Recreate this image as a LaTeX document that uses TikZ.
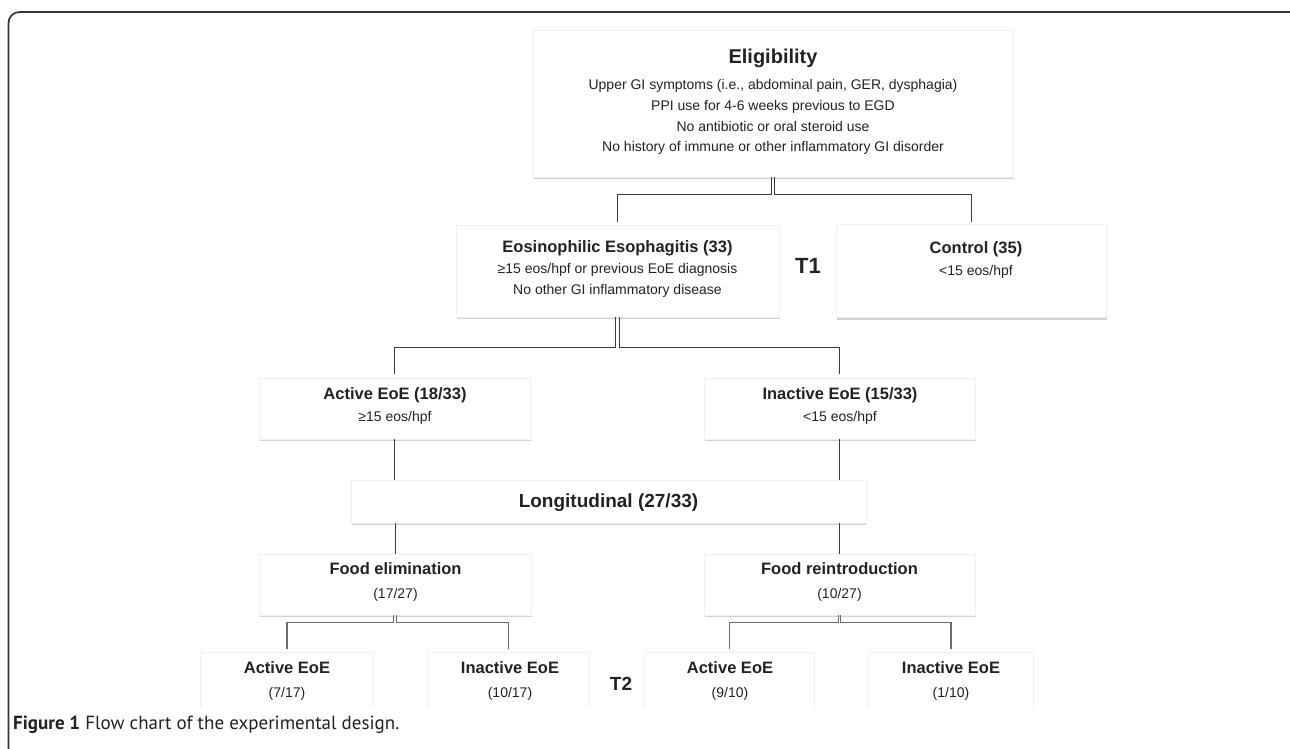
\documentclass[tikz,border=0pt]{standalone}
\usepackage{fontspec}
\setmainfont{Liberation Sans}
\newfontfamily\capfont{PT Sans}
\usetikzlibrary{shadows}
\definecolor{txt}{HTML}{222222}
\definecolor{lnc}{HTML}{3A3A3A}
\definecolor{lnl}{HTML}{6A6A6A}
\definecolor{bdc}{HTML}{F0F0F0}
\definecolor{frm}{HTML}{333333}
\newcommand\fsz[2]{\fontsize{#1}{#2}\selectfont}
\tikzset{
  box/.style={rectangle, draw=bdc, line width=0.8pt, fill=white, inner sep=0pt,
    drop shadow={shadow xshift=0.6pt, shadow yshift=-2.2pt, fill=black!45, opacity=0.4}},
  openbox/.style={rectangle, inner sep=0pt, fill=white},
  side/.style={draw=bdc, line width=0.9pt},
  hd/.style={anchor=base, text=txt, font=\fsz{16.5}{20}\bfseries, inner sep=0pt},
  body/.style={anchor=base, text=txt, font=\fsz{14}{17}, inner sep=0pt},
  tlab/.style={anchor=base, text=txt, font=\fsz{22}{26}\bfseries, inner sep=0pt},
  conn/.style={draw=lnc, line width=1pt},
  connl/.style={draw=lnl, line width=1.2pt},
}
\begin{document}
\begin{tikzpicture}[x=1pt,y=-1pt]
\useasboundingbox (0,0) rectangle (1290,748);
\clip (0,0) rectangle (1290,748);
\fill[white] (0,0) rectangle (1290,748);
\draw[frm, line width=1.7pt, rounded corners=11pt] (8.5,12) rectangle (1302,775);

% boxes
\node[box, minimum width=480pt, minimum height=147pt] (elig) at (773,103.5) {};
\node[box, minimum width=323pt, minimum height=92pt] (eoe) at (617.5,271) {};
\node[box, minimum width=270pt, minimum height=93pt] (ctrl) at (971,271) {};
\node[box, minimum width=271pt, minimum height=61pt] (act) at (394.5,408.5) {};
\node[box, minimum width=271pt, minimum height=61pt] (inact) at (839.5,408.5) {};
\node[box, minimum width=515pt, minimum height=43pt] (longi) at (608.5,501.5) {};
\node[box, minimum width=272pt, minimum height=61pt] (felim) at (395,584.5) {};
\node[box, minimum width=271pt, minimum height=61pt] (freint) at (839.5,584.5) {};
\node[openbox, minimum width=172pt, minimum height=55pt] (b1) at (287,680.5) {};
\node[openbox, minimum width=161pt, minimum height=55pt] (b2) at (508.5,680.5) {};
\node[openbox, minimum width=169pt, minimum height=55pt] (b3) at (729.5,680.5) {};
\node[openbox, minimum width=164pt, minimum height=55pt] (b4) at (951,680.5) {};
\foreach \b in {b1,b2,b3,b4}{
  \draw[side] (\b.south west) -- (\b.north west) -- (\b.north east) -- (\b.south east);
}

% texts
\node[anchor=base, text=txt, font=\fsz{20}{24}\bfseries, inner sep=0pt] (eligT) at (773,63) {Eligibility};
\node[body] (e1) at (773,89) {Upper GI symptoms (i.e., abdominal pain, GER, dysphagia)};
\node[body] (e2) at (773,110) {PPI use for 4-6 weeks previous to EGD};
\node[body] (e3) at (773,131) {No antibiotic or oral steroid use};
\node[body] (e4) at (773,151) {No history of immune or other inflammatory GI disorder};

\node[hd] (eoeT) at (617.5,252) {Eosinophilic Esophagitis (33)};
\node[body] (eoe1) at (617.5,273) {≥15 eos/hpf or previous EoE diagnosis};
\node[body] (eoe2) at (617.5,294) {No other GI inflammatory disease};
\node[tlab] (t1) at (808,273) {T1};

\node[hd] (ctrlT) at (976,253) {Control (35)};
\node[body] (ctrl1) at (976,275) {<15 eos/hpf};

\node[hd] (actT) at (395,399) {Active EoE (18/33)};
\node[body] (act1) at (395,421) {≥15 eos/hpf};
\node[hd] (inactT) at (840,399) {Inactive EoE (15/33)};
\node[body] (inact1) at (840,421) {<15 eos/hpf};

\node[anchor=base, text=txt, font=\fsz{19}{22}\bfseries, inner sep=0pt] (longiT) at (608.5,507) {Longitudinal (27/33)};

\node[hd] (felimT) at (395.5,574) {Food elimination};
\node[body] (felim1) at (395.5,598) {(17/27)};
\node[hd] (freintT) at (839.5,574) {Food reintroduction};
\node[body] (freint1) at (839.5,598) {(10/27)};

\node[hd] (b1T) at (287,673) {Active EoE};
\node[body] (b1n) at (287,697) {(7/17)};
\node[hd] (b2T) at (510,673) {Inactive EoE};
\node[body] (b2n) at (510,697) {(10/17)};
\node[hd] (b3T) at (730,673) {Active EoE};
\node[body] (b3n) at (730,697) {(9/10)};
\node[hd] (b4T) at (951,673) {Inactive EoE};
\node[body] (b4n) at (951,697) {(1/10)};
\node[anchor=base, text=txt, font=\fsz{19}{22}\bfseries, inner sep=0pt] (t2) at (621,690) {T2};

% connectors
\draw[conn, shorten >=2.5pt] ([xshift=-1.5pt]elig.south) -- ++(0,17) -| (eoe.north);
\draw[conn, shorten >=2.5pt] ([xshift=1.5pt]elig.south) -- ++(0,17) -| (ctrl.north);
\draw[conn, shorten >=4pt] ([xshift=-2pt]eoe.south) -- ++(0,30) -| (act.north);
\draw[conn, shorten >=4pt] ([xshift=2pt]eoe.south) -- ++(0,30) -| (inact.north);
\draw[conn] (act.south) -- (act.south |- longi.north);
\draw[conn] (inact.south) -- (inact.south |- longi.north);
\draw[conn] (longi.south -| felim.north) -- (felim.north);
\draw[conn] (longi.south -| freint.north) -- (freint.north);
\draw[connl, shorten >=4pt] ([xshift=-1.2pt]felim.south) -- ++(0,7) -| (b1.north);
\draw[connl, shorten >=4pt] ([xshift=1.2pt]felim.south) -- ++(0,7) -| (b2.north);
\draw[connl, shorten >=4pt] ([xshift=-1.2pt]freint.south) -- ++(0,7) -| (b3.north);
\draw[connl, shorten >=4pt] ([xshift=1.2pt]freint.south) -- ++(0,7) -| (b4.north);

% caption
\node[anchor=base west, inner sep=0pt, text=txt, font=\capfont\fsz{19}{22}] (cap) at (13,729) {\textbf{Figure 1} Flow chart of the experimental design.};
\end{tikzpicture}
\end{document}
